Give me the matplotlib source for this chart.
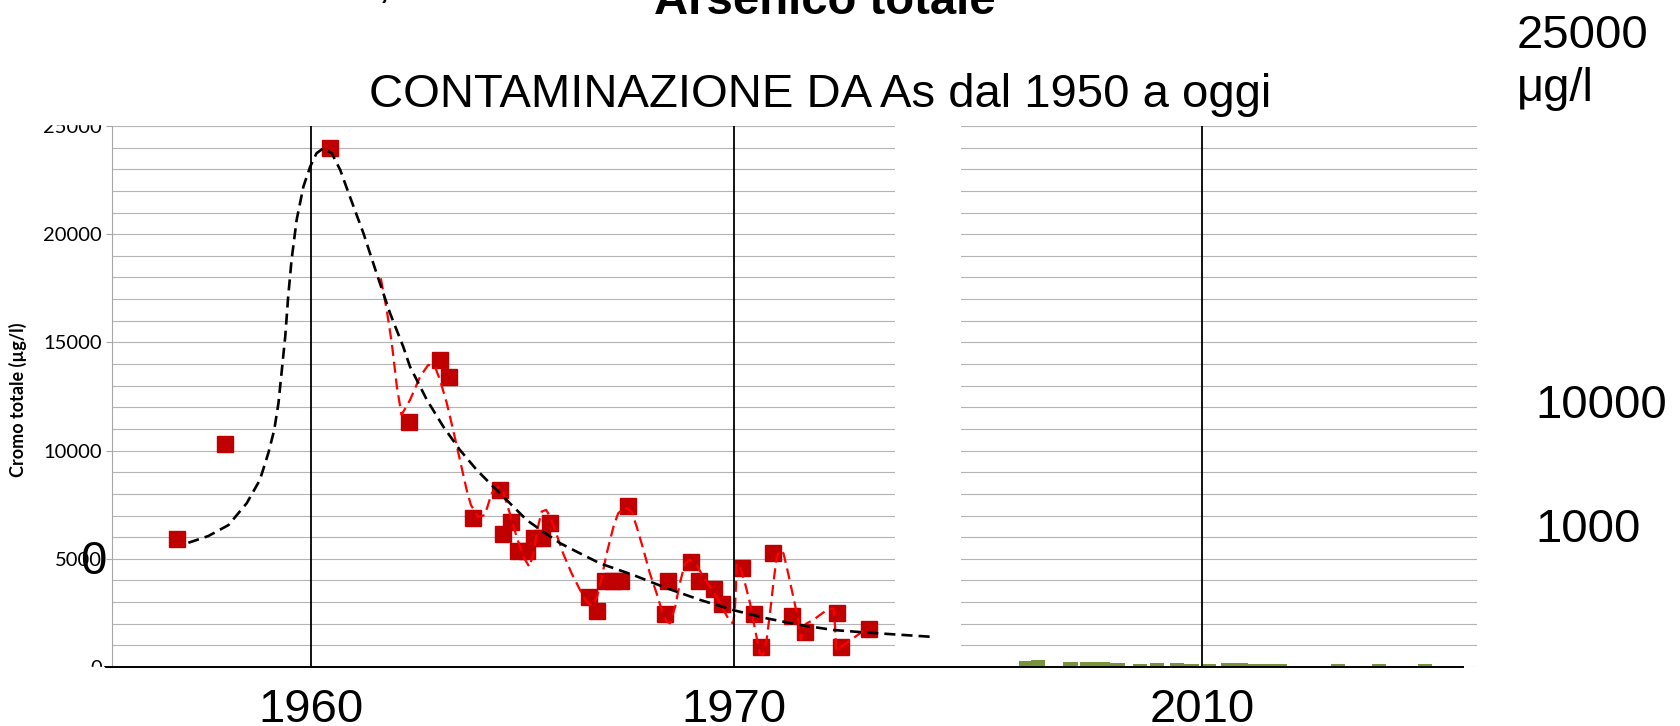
import numpy as np
import matplotlib
matplotlib.use("Agg")
import matplotlib.pyplot as plt
from matplotlib.lines import Line2D
from matplotlib.patches import Rectangle

# misure (anno, valore in ug/l)
anni_misure = [1956.83, 1957.97, 1960.45, 1962.32, 1963.05, 1963.26, 1963.83,
               1964.47, 1964.72, 1964.54, 1964.89, 1965.11, 1965.27, 1965.46,
               1965.65, 1966.57, 1966.76, 1966.95, 1967.14, 1967.33, 1967.49,
               1968.37, 1968.44, 1968.98, 1969.17, 1969.53, 1969.72, 1970.19,
               1970.47, 1970.64, 1970.92, 1971.37, 1971.68, 1972.43, 1972.53,
               1973.19]
valori_misure = [5900, 10300, 24000, 11300, 14200, 13400, 6900,
                 8200, 6700, 6150, 5360, 5360, 5960, 5960,
                 6650, 3230, 2590, 3970, 3970, 3970, 7440,
                 2450, 3970, 4850, 3970, 3600, 2910, 4570,
                 2450, 920, 5270, 2360, 1620, 2500, 920,
                 1760]

# linea di tendenza (nera tratteggiata)
anni_tendenza = [1957.10, 1957.57, 1958.05, 1958.48, 1958.79, 1958.99, 1959.13,
                 1959.23, 1959.31, 1959.39, 1959.46, 1959.54, 1959.66, 1959.82,
                 1959.98, 1960.13, 1960.29, 1960.49, 1960.69, 1960.92, 1961.24,
                 1961.55, 1961.87, 1962.18, 1962.34, 1962.74, 1963.13, 1963.52,
                 1963.92, 1964.31, 1964.70, 1965.10, 1965.49, 1965.89, 1966.28,
                 1966.83, 1967.62, 1968.41, 1969.20, 1969.98, 1970.77, 1971.56,
                 1972.35, 1973.14, 1974.63]
valori_tendenza = [5740, 6050, 6560, 7570, 8640, 9880, 10950,
                   12190, 13720, 15260, 17110, 18810, 20660, 22200,
                   23120, 23740, 23970, 23740, 22970, 21730, 20040,
                   18190, 16340, 14800, 13880, 12340, 11100, 10030,
                   9100, 8330, 7570, 6790, 6250, 5720, 5330,
                   4790, 4250, 3640, 3100, 2630, 2250, 1940,
                   1710, 1590, 1400]

# curva rossa tratteggiata
anni_curva = [1961.65, 1961.79, 1961.91, 1962.03, 1962.14, 1962.34, 1962.58,
              1962.77, 1962.93, 1963.05, 1963.21, 1963.36, 1963.52, 1963.68,
              1963.78, 1963.95, 1964.11, 1964.27, 1964.43, 1964.55, 1964.70,
              1964.86, 1965.02, 1965.16, 1965.26, 1965.35, 1965.45, 1965.56,
              1965.65, 1965.77, 1965.96, 1966.16, 1966.36, 1966.50, 1966.64,
              1966.76, 1966.86, 1966.99, 1967.15, 1967.26, 1967.42, 1967.58,
              1967.70, 1967.86, 1968.01, 1968.17, 1968.29, 1968.41, 1968.49,
              1968.61, 1968.72, 1968.84, 1968.96, 1969.12, 1969.27, 1969.43,
              1969.59, 1969.75, 1969.91, 1969.98, 1970.02, 1970.05, 1970.06,
              1970.14, 1970.26, 1970.38, 1970.50, 1970.61, 1970.69, 1970.77,
              1970.85, 1970.93, 1971.01, 1971.09, 1971.17, 1971.28, 1971.40,
              1971.52, 1971.58, 1971.64, 1971.72, 1971.87, 1972.03, 1972.19,
              1972.35, 1972.39, 1972.41, 1972.66, 1972.82, 1972.98, 1973.14]
valori_curva = [17960, 16500, 14960, 12950, 11650, 12340, 13420,
                13960, 13880, 13260, 12190, 10950, 9570, 8180,
                7490, 6930, 7020, 8030, 8330, 8030, 7100,
                6020, 5100, 4630, 5250, 6330, 7180, 7260,
                6950, 6330, 5250, 4330, 3560, 3050, 2820,
                3230, 4020, 5250, 6480, 7100, 7380, 7180,
                6480, 5410, 4330, 3410, 2630, 2090, 2020,
                2790, 3870, 4790, 4940, 4710, 4170, 3710,
                3250, 2630, 2090, 2020, 2630, 3870, 4790,
                4630, 3870, 2940, 1710, 630, 550, 1250,
                2480, 3870, 5100, 5410, 5250, 4330, 3250,
                2170, 1250, 1860, 2020, 2170, 2400, 2630,
                2710, 1860, 790, 1100, 1330, 1560, 1790]

# dati recenti (barre verdi)
anni_recenti = [2005.84, 2006.12, 2006.89, 2007.29, 2007.65, 2008.00, 2008.53,
                2008.94, 2009.40, 2009.75, 2010.17, 2010.61, 2010.92, 2011.23,
                2011.55, 2011.84, 2013.21, 2014.18, 2015.27]
valori_recenti = [300, 320, 250, 220, 220, 200, 150,
                  200, 180, 160, 160, 180, 180, 130,
                  130, 130, 130, 130, 160]

W, H = 1681, 726


def fx(x):
    return x / W


def fy(y):
    return 1 - y / H


fig = plt.figure(figsize=(W / 100, H / 100), dpi=100)
fig.patch.set_facecolor('white')

ax1 = fig.add_axes([fx(112), fy(667), fx(895) - fx(112), fy(126) - fy(667)])
ax2 = fig.add_axes([fx(961), fy(667), fx(1477) - fx(961), fy(126) - fy(667)])

for ax in (ax1, ax2):
    ax.set_ylim(0, 25000)
    ax.set_yticks(np.arange(0, 25001, 1000), minor=True)
    ax.set_yticks(np.arange(0, 25001, 5000))
    ax.grid(True, axis='y', which='both', color='#b4b4b4', lw=0.8)
    ax.set_axisbelow(True)
    for s in ('top', 'right', 'bottom'):
        ax.spines[s].set_visible(False)
    ax.tick_params(axis='x', length=0, labelsize=34, pad=15)

ax1.set_xlim(1955.295, 1973.806)
ax2.set_xlim(2004.30, 2016.50)

ax1.spines['left'].set_color('#a6a6a6')
ax1.tick_params(axis='y', which='major', length=4.3, color='#a6a6a6',
                labelsize=14.5, pad=3)
ax1.tick_params(axis='y', which='minor', length=0)
for lab in ax1.get_yticklabels():
    lab.set_fontfamily('Lato')

ax2.spines['left'].set_visible(False)
ax2.tick_params(axis='y', which='both', length=0, labelleft=False)

ax1.set_xticks([1960, 1970])
ax1.set_xticklabels(['1960', '1970'], fontfamily='Liberation Sans', fontsize=34)
ax2.set_xticks([2010])
ax2.set_xticklabels(['2010'], fontfamily='Liberation Sans', fontsize=34)

ax1.axvline(1960, color='black', lw=1.3, zorder=4)
ax1.axvline(1970, color='black', lw=1.3, zorder=4)
ax2.axvline(2010, color='black', lw=1.3, zorder=4)

ax1.plot(anni_misure, valori_misure, ls='none', marker='s', ms=11.5,
         color='#c00000', mec='#c00000', zorder=2)
ax1.plot(anni_curva, valori_curva, color='#ff0000', lw=1.6,
         dashes=(5, 2.6), zorder=3)
ax1.plot(anni_tendenza, valori_tendenza, color='black', lw=1.9,
         dashes=(4.2, 2.3), zorder=3, clip_on=False)

ax2.bar(anni_recenti, valori_recenti, width=0.34, color='#77933c', zorder=2)

# linea di base comune
fig.add_artist(Line2D([fx(105), fx(1463)], [fy(667), fy(667)],
                      color='black', lw=1.4, transform=fig.transFigure))

# etichette parzialmente coperte come nella slide
fig.add_artist(Rectangle((0, fy(124)), fx(109), 1 - fy(124), color='white',
                         transform=fig.transFigure, zorder=5))
fig.add_artist(Rectangle((0, 0), fx(104), fy(666.5), color='white',
                         transform=fig.transFigure, zorder=5))

fig.text(fx(18), fy(400), 'Cromo totale (µg/l)', rotation=90, ha='center',
         va='center', fontsize=13, fontweight='bold', fontfamily='Lato')

big = dict(fontfamily='Liberation Sans', fontsize=34, va='baseline')
fig.text(fx(820), fy(107), 'CONTAMINAZIONE DA As dal 1950 a oggi', ha='center', **big)
fig.text(fx(825), fy(14), 'Arsenico totale', ha='center', fontweight='bold', **big)
fig.text(fx(78), fy(1), 'g', ha='left', **big)
fig.text(fx(378), fy(-3), ',', ha='left', **big)
fig.text(fx(1517), fy(48), '25000', ha='left', **big)
fig.text(fx(1517), fy(101), 'μg/l', ha='left', **big)
fig.text(fx(1535), fy(418), '10000', ha='left', **big)
fig.text(fx(1535), fy(542), '1000', ha='left', **big)
fig.text(fx(80), fy(574), '0', ha='left', zorder=6, **big)

fig.savefig('out.png', dpi=100, facecolor='white')
